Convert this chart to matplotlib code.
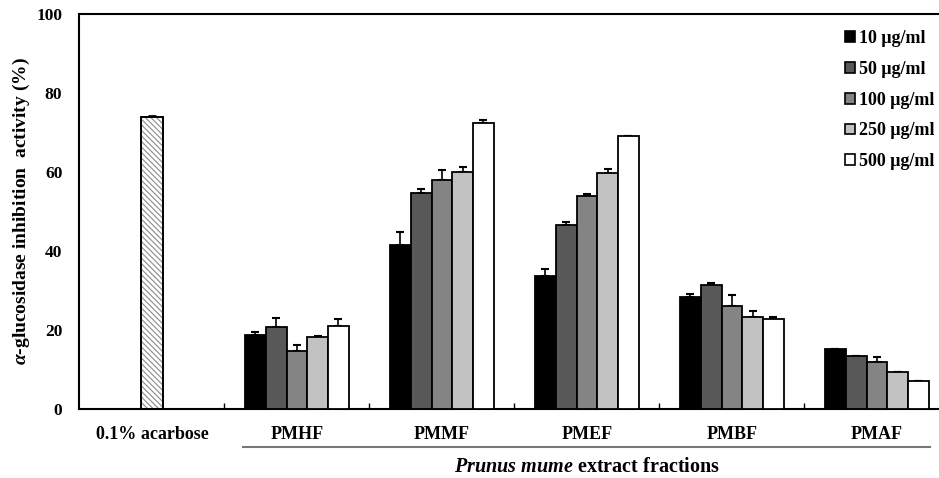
import matplotlib
matplotlib.use("Agg")
import matplotlib.pyplot as plt
import numpy as np
from matplotlib.patches import Patch

plt.rcParams['font.family'] = ['Liberation Serif', 'DejaVu Serif']
plt.rcParams['font.weight'] = 'bold'
plt.rcParams['axes.labelweight'] = 'bold'
plt.rcParams['mathtext.fontset'] = 'custom'
plt.rcParams['mathtext.it'] = 'Liberation Serif:italic:bold'
plt.rcParams['mathtext.rm'] = 'Liberation Serif:bold'
plt.rcParams['hatch.linewidth'] = 0.8

# données
categories = ["0.1% acarbose", "PMHF", "PMMF", "PMEF", "PMBF", "PMAF"]
concentrations = ["10 μg/ml", "50 μg/ml", "100 μg/ml", "250 μg/ml", "500 μg/ml"]
acarbose_val = 73.8
acarbose_err = 0.5

# une ligne par fraction, une colonne par concentration
values = np.array([
    [18.7, 20.7, 14.6, 18.2, 21.1],   # PMHF
    [41.4, 54.7, 58.1, 60.1, 72.4],   # PMMF
    [33.7, 46.6, 53.8, 59.7, 69.2],   # PMEF
    [28.3, 31.4, 26.2, 23.4, 22.7],   # PMBF
    [15.3, 13.4, 11.9, 9.4, 7.0],     # PMAF
])
errors = np.array([
    [0.7, 2.3, 1.5, 0.4, 1.8],
    [3.4, 1.1, 2.3, 1.2, 0.7],
    [1.7, 0.8, 0.6, 1.1, 0.0],
    [0.8, 0.4, 2.7, 1.3, 0.7],
    [0.0, 0.0, 1.3, 0.0, 0.0],
])

colors = ["#000000", "#585858", "#848484", "#c2c2c2", "#ffffff"]
width = 0.143

fig = plt.figure(figsize=(9.39, 4.78), dpi=100)
ax = fig.add_axes([79/939, 1 - 409/478, 1 - 79/939, (409 - 14)/478])

# acarbose : barre hachurée
ax.bar(0, acarbose_val, width=width*1.05, color="white", edgecolor="#8a8a8a",
       hatch="\\\\\\\\\\\\", linewidth=0, zorder=2)
ax.bar(0, acarbose_val, width=width*1.05, fill=False, edgecolor="black",
       linewidth=1.4, zorder=3)
ax.errorbar(0, acarbose_val, yerr=[[0], [acarbose_err]], fmt="none",
            ecolor="black", elinewidth=1.2, capsize=3, capthick=2, zorder=1)

x = np.arange(1, len(categories))
for i in range(len(concentrations)):
    pos = x + (i - 2) * width
    ax.bar(pos, values[:, i], width=width, color=colors[i], edgecolor="black",
           linewidth=1.3, label=concentrations[i], zorder=3)
    ax.errorbar(pos, values[:, i], yerr=[np.zeros(len(x)), errors[:, i]],
                fmt="none", ecolor="black", elinewidth=1.2, capsize=3,
                capthick=1.5, zorder=2)

ax.set_xlim(-0.503, 5.428)
ax.set_ylim(0, 100)
ax.set_yticks([0, 20, 40, 60, 80, 100])
ax.set_xticks(np.arange(len(categories)))
ax.set_xticklabels(categories)
ax.set_xticks(np.arange(0.5, 5), minor=True)
ax.tick_params(axis="x", which="major", length=0, pad=12, labelsize=13)
ax.tick_params(axis="x", which="minor", direction="in", length=4, width=1)
ax.tick_params(axis="y", length=0, pad=12, labelsize=12.5)

for s in ["left", "top", "bottom"]:
    ax.spines[s].set_linewidth(1.5)
ax.spines["right"].set_visible(False)

ax.set_ylabel(r"$\alpha$-glucosidase inhibition  activity (%)", fontsize=14,
              fontweight="bold")
ax.yaxis.set_label_coords(-0.0547, 0.5)

# trait gris sous les fractions + titre de groupe
ax.plot([0.628, 5.366], [-0.096, -0.096], color="#777777", linewidth=1.5,
        transform=ax.get_xaxis_transform(), clip_on=False)
ax.text(3.0, -0.148, r"$Prunus\ mume$ extract fractions", fontsize=14.5,
        ha="center", va="center", transform=ax.get_xaxis_transform())

handles = [Patch(facecolor=c, edgecolor="black", linewidth=1.2) for c in colors]
ax.legend(handles, concentrations, loc="upper left",
          bbox_to_anchor=(838/939, 1 - 23/478), bbox_transform=fig.transFigure,
          frameon=False, handlelength=0.55, handleheight=0.55, handletextpad=0.2,
          labelspacing=0.76, fontsize=13, borderaxespad=0)

fig.savefig("out.png", dpi=100)
